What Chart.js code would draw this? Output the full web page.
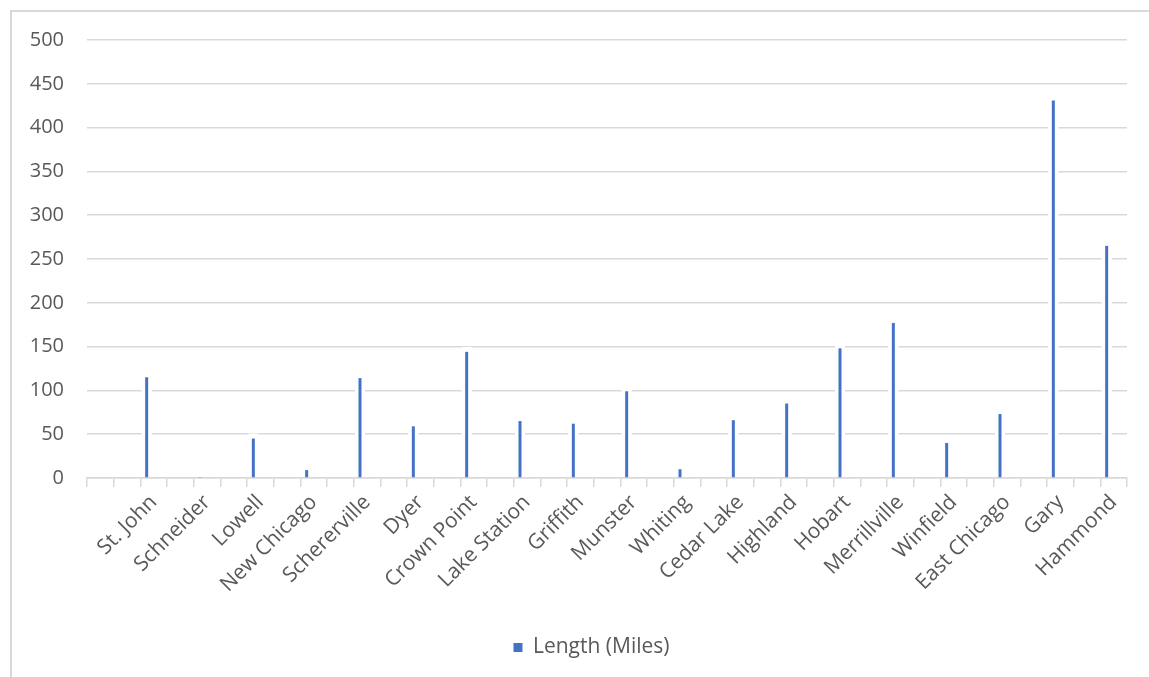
<!DOCTYPE html>
<html>
<head>
<meta charset="utf-8">
<script src="https://cdn.jsdelivr.net/npm/chart.js@4"></script>
<style>
  html, body { margin: 0; padding: 0; background: #fff; }
  #wrap { position: relative; width: 1149px; height: 677px; }
  #frame { position: absolute; left: 10px; top: 10px; right: 0; bottom: 0; border-left: 2px solid #d9d9d9; border-top: 2px solid #d9d9d9; pointer-events: none; }
  canvas { position: absolute; left: 0; top: 0; }
</style>
</head>
<body>
<div id="wrap">
  <canvas id="c" width="1149" height="677"></canvas>
  <div id="frame"></div>
</div>
<script>
const cities = ["St. John", "Schneider", "Lowell", "New Chicago", "Schererville", "Dyer", "Crown Point", "Lake Station", "Griffith", "Munster", "Whiting", "Cedar Lake", "Highland", "Hobart", "Merrillville", "Winfield", "East Chicago", "Gary", "Hammond"];
const lengthMiles = [115, 0.5, 45, 9, 114, 59, 144, 65, 62, 99, 10, 66, 85, 148, 177, 40, 73, 431, 265];
const yTicks = [0, 50, 100, 150, 200, 250, 300, 350, 400, 450, 500];
const seriesName = "Length (Miles)";

// Excel-style layout: each city sits in every other slot of the category axis
const labels = [""];
const values = [null];
cities.forEach((c, i) => { labels.push(""); values.push(null); labels.push(c); values.push(lengthMiles[i]); });
labels.splice(1, 1); values.splice(1, 1);
labels.unshift(""); values.unshift(null);

const FONT = "'Open Sans', sans-serif";
const GREY = '#595959';

const haloPlugin = {
  id: 'halo',
  afterLayout(chart) {
    if (chart.legend) {
      chart.legend.left += 28;
      chart.legend.right += 28;
    }
  },
  beforeDatasetsDraw(chart) {
    const ctx = chart.ctx;
    const meta = chart.getDatasetMeta(0);
    ctx.save();
    ctx.fillStyle = '#ffffff';
    meta.data.forEach(el => {
      const x = el.x, y = el.y, base = el.base;
      if (!isFinite(x) || !isFinite(y) || !isFinite(base) || base - y < 2) return;
      ctx.fillRect(x - 5, y - 5, 10, base - y + 3);
    });
    ctx.restore();
  }
};

new Chart(document.getElementById('c'), {
  type: 'bar',
  data: {
    labels: labels,
    datasets: [
      { label: seriesName, data: values, backgroundColor: '#4472C4', borderWidth: 0, maxBarThickness: 3, categoryPercentage: 1.05, barPercentage: 1 },
      { label: '_pad', data: values.map(() => null), backgroundColor: 'rgba(0,0,0,0)', categoryPercentage: 1.05, barPercentage: 1 }
    ]
  },
  options: {
    responsive: false,
    animation: false,
    devicePixelRatio: 1,
    layout: { padding: { left: 0, right: 22, top: 40, bottom: 9 } },
    plugins: {
      legend: {
        position: 'bottom',
        labels: {
          filter: item => item.text !== '_pad',
          color: GREY,
          font: { family: FONT, size: 21 },
          boxWidth: 9, boxHeight: 9,
          padding: 10
        }
      },
      tooltip: { enabled: false },
      title: { display: false }
    },
    scales: {
      x: {
        grid: { display: true, drawOnChartArea: false, drawTicks: true, tickLength: 9, color: '#d9d9d9', lineWidth: 1.5, offset: true },
        border: { display: true, color: '#d9d9d9', width: 1.5 },
        ticks: { autoSkip: false, maxRotation: 45, minRotation: 45, color: GREY, font: { family: FONT, size: 21 }, padding: 3 },
        afterFit: s => { s.height = 149; }
      },
      y: {
        min: 0, max: 500,
        afterBuildTicks: s => { s.ticks = yTicks.map(v => ({ value: v })); },
        grid: { color: '#d9d9d9', lineWidth: 1.5, drawTicks: false },
        border: { display: false },
        ticks: { color: GREY, font: { family: FONT, size: 20 }, padding: 23 },
        afterFit: s => { s.width = 87; }
      }
    }
  },
  plugins: [haloPlugin]
});
</script>
</body>
</html>
